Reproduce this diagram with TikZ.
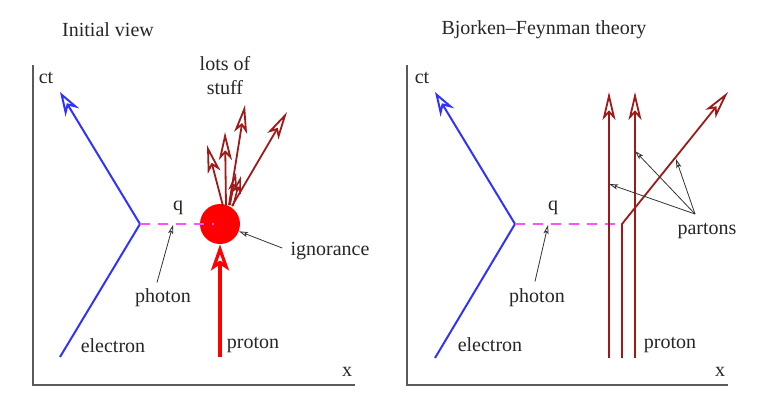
\documentclass[tikz,border=0pt]{standalone}
\usepackage{fontspec}
\setmainfont{Liberation Serif}
\usetikzlibrary{arrows.meta}
\definecolor{eblue}{RGB}{50,50,255}
\definecolor{gmagenta}{RGB}{255,80,255}
\definecolor{pdred}{RGB}{160,25,25}
\definecolor{axgray}{RGB}{90,90,90}
\tikzset{
  axis/.style={axgray,line width=0.6pt},
  electron/.style={eblue,line width=1pt,-{Stealth[open,length=12pt,width=8pt,inset=4pt]}},
  photon/.style={gmagenta,line width=0.8pt,dash pattern=on 5pt off 4pt},
  parton/.style={pdred,line width=0.9pt,-{Stealth[open,length=14pt,width=6.5pt,inset=3.5pt]}},
  smallparton/.style={pdred,line width=0.8pt,-{Stealth[open,length=9pt,width=4.5pt,inset=2.5pt]}},
  proton/.style={red,line width=1.6pt,-{Stealth[open,length=13pt,width=9pt,inset=3pt]}},
  blob/.style={circle,fill=red,draw=none,minimum size=20pt,inner sep=0pt},
  pointer/.style={black!80,line width=0.4pt,-{Stealth[open,length=4.5pt,width=2.6pt,inset=1pt]}},
  lbl/.style={inner sep=1pt,text=black!85}
}
\begin{document}
\begin{tikzpicture}[x=0.5pt,y=-0.5pt,font=\fontsize{10}{12}\selectfont]
\useasboundingbox (0,0) rectangle (773,408);

% ---- left panel: initial view
\node[lbl] (titleL) at (108,30) {Initial view};
\draw[axis] (33,65) -- (33,385) -- (355,385);
\node[lbl] (ctL) at (46,78) {ct};
\node[lbl] (xL) at (347,372) {x};

\coordinate (eLin) at (60,357);
\coordinate (vL) at (140,224);
\coordinate (eLout) at (60,92);
\draw[electron] (eLin) -- (vL) -- (eLout);

\node[blob] (blob) at (220,224) {};
\draw[photon] (vL) -- (214,224) coordinate (gLend);
\coordinate (gL) at (173,225);
\coordinate (pLin) at (220,357);
\draw[proton] (pLin) -- (blob.south);

% lots of stuff
\draw[smallparton] (230,205) -- (236,173);
\draw[smallparton] (233,206) -- (241,176);
\draw[parton] (223,206) -- (207,145);
\draw[parton] (226,205) -- (225,132);
\draw[parton] (229,205) -- (245,105);
\draw[parton] (232,206) -- (287,112);

\node[lbl,align=center] (stuff) at (225,76) {lots of\\stuff};
\node[lbl] (qL) at (178,208) {q};
\node[lbl] (photonL) at (163,298) {photon};
\draw[pointer] (photonL.north) ++(-6,-4) -- (gL);
\node[lbl] (ign) at (330,251) {ignorance};
\draw[pointer] (ign.west) ++(-6,-3) -- (blob);
\node[lbl] (elecL) at (113,346) {electron};
\node[lbl] (protL) at (253,345) {proton};

% ---- right panel: Bjorken-Feynman theory
\node[lbl] (titleR) at (544,30) {Bjorken--Feynman theory};
\draw[axis] (407,65) -- (407,385) -- (728,385);
\node[lbl] (ctR) at (422,78) {ct};
\node[lbl] (xR) at (720,372) {x};

\coordinate (eRin) at (435,358);
\coordinate (vR) at (515,224);
\coordinate (eRout) at (435,92);
\draw[electron] (eRin) -- (vR) -- (eRout);

\coordinate (kink) at (622,224);
\draw[photon] (vR) -- (kink);
\coordinate (gR) at (548,225);

\draw[parton] (609,358) -- (609,92);
\draw[parton] (635,358) -- (635,92);
\draw[parton] (622,358) -- (kink) -- (728,92);

\node[lbl] (qR) at (553,208) {q};
\node[lbl] (photonR) at (537,298) {photon};
\draw[pointer] (photonR.north) ++(-2,-5) -- (gR);
\node[lbl] (elecR) at (490,345) {electron};
\node[lbl] (protR) at (670,345) {proton};
\node[lbl] (partons) at (707,231) {partons};
\coordinate (pconv) at (695,214);
\draw[pointer] (pconv) -- (609,184);
\draw[pointer] (pconv) -- (635,151);
\draw[pointer] (pconv) -- (676,159);
\end{tikzpicture}
\end{document}
